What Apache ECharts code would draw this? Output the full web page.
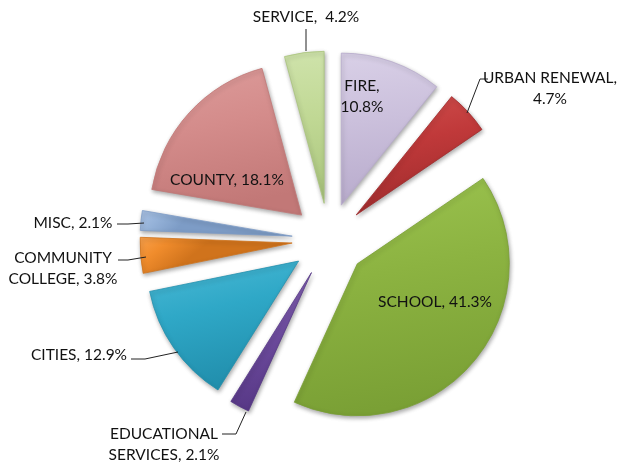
<!DOCTYPE html>
<html>
<head>
<meta charset="utf-8">
<script src="https://cdn.jsdelivr.net/npm/echarts@6/dist/echarts.min.js"></script>
<style>html,body{margin:0;padding:0;background:#fff}#c{width:623px;height:464px}</style>
</head>
<body>
<div id="c"></div>
<script>
const categories = ['FIRE','URBAN RENEWAL','SCHOOL','EDUCATIONAL SERVICES','CITIES','COMMUNITY COLLEGE','MISC','COUNTY','SERVICE'];
const values = [10.8, 4.7, 41.3, 2.1, 12.9, 3.8, 2.1, 18.1, 4.2];
const labelTexts = ['FIRE,\n10.8%','URBAN RENEWAL,\n4.7%','SCHOOL, 41.3%','EDUCATIONAL\nSERVICES, 2.1%','CITIES, 12.9%','COMMUNITY\nCOLLEGE, 3.8%','MISC, 2.1%','COUNTY, 18.1%','SERVICE,  4.2%'];
const insideLabels = ['FIRE','SCHOOL','COUNTY'];

const baseColors = ['#cbc0dc','#c0393a','#8cb341','#6e4c9e','#2fa8c7','#f08c2c','#96b3d9','#d48c8b','#c0d894'];
const lightColors = ['#d9d0e7','#d0504e','#9cc450','#8363b2','#4cbad6','#f9a14c','#aac2e4','#dd9c9b','#cfe3ab'];
const darkColors = ['#b8abcc','#a02c2d','#7aa035','#573886','#2290ae','#d0731c','#7d9cc6','#c27877','#a9c47c'];

const PIE_CENTER = [329, 240];
const PIE_RADIUS = 152;
const EXPLODE = 37;

const labelPos = {
  'FIRE': [362, 96],
  'URBAN RENEWAL': [550, 88],
  'SCHOOL': [435, 302],
  'EDUCATIONAL SERVICES': [164, 444],
  'CITIES': [79, 355],
  'COMMUNITY COLLEGE': [63, 268],
  'MISC': [73, 223],
  'COUNTY': [227, 180],
  'SERVICE': [306, 17]
};
const leaderLines = {
  'URBAN RENEWAL': [[467,113],[480,79],[488,79]],
  'EDUCATIONAL SERVICES': [[246,412],[236,434],[222,434]],
  'CITIES': [[178,352],[145,359],[131,359]],
  'COMMUNITY COLLEGE': [[146,257],[128,260],[118,260]],
  'MISC': [[144,223],[128,224],[117,224]],
  'SERVICE': [[306,51],[306,40],[306,29]]
};

const sliceData = categories.map((name, i) => ({
  name: name,
  value: values[i],
  selected: true,
  itemStyle: {
    color: {
      type: 'linear', x: 0, y: 0, x2: 0.2, y2: 1,
      colorStops: [
        {offset: 0, color: lightColors[i]},
        {offset: 0.45, color: baseColors[i]},
        {offset: 1, color: darkColors[i]}
      ]
    },
    borderColor: darkColors[i],
    borderWidth: 0.8
  }
}));

const labelData = categories.map((name, i) => {
  const inside = insideLabels.indexOf(name) >= 0;
  return {
    name: name,
    value: values[i],
    label: { position: inside ? 'inside' : 'outside' },
    labelLine: { show: !inside }
  };
});

const chart = echarts.init(document.getElementById('c'), null, {renderer: 'canvas'});
chart.setOption({
  animation: false,
  backgroundColor: '#ffffff',
  series: [{
    type: 'pie',
    center: PIE_CENTER,
    radius: [0, PIE_RADIUS],
    startAngle: 90,
    clockwise: true,
    selectedMode: 'multiple',
    selectedOffset: EXPLODE,
    silent: true,
    emphasis: { disabled: true },
    itemStyle: {
      shadowBlur: 4,
      shadowColor: 'rgba(0,0,0,0.35)',
      shadowOffsetX: 1,
      shadowOffsetY: 2
    },
    label: { show: false },
    labelLine: { show: false },
    data: sliceData
  }, {
    type: 'pie',
    center: PIE_CENTER,
    radius: [0, PIE_RADIUS],
    startAngle: 90,
    clockwise: true,
    silent: true,
    z: 5,
    avoidLabelOverlap: false,
    emphasis: { disabled: true },
    itemStyle: { color: 'rgba(0,0,0,0)', borderWidth: 0 },
    label: {
      show: true,
      color: '#111',
      fontFamily: 'Lato',
      fontSize: 15.5,
      lineHeight: 21,
      align: 'center',
      formatter: function (p) { return labelTexts[p.dataIndex]; }
    },
    labelLine: {
      show: true,
      lineStyle: { color: '#222', width: 1 }
    },
    labelLayout: function (p) {
      const name = categories[p.dataIndex];
      const pos = labelPos[name];
      const res = { x: pos[0], y: pos[1], align: 'center', verticalAlign: 'middle' };
      if (leaderLines[name]) res.labelLinePoints = leaderLines[name];
      return res;
    },
    data: labelData
  }]
});
</script>
</body>
</html>
